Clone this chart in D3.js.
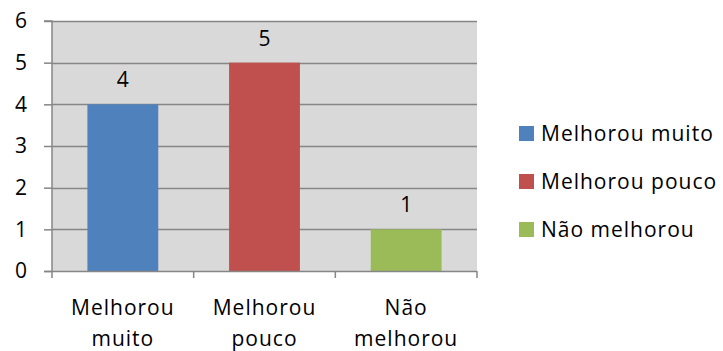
<!DOCTYPE html>
<html>
<head>
<meta charset="utf-8">
<script src="https://cdn.jsdelivr.net/npm/d3@7"></script>
<style>
  html, body { margin: 0; padding: 0; background: #fff; }
  svg { display: block; font-family: "Open Sans", "Liberation Sans", sans-serif; }
</style>
</head>
<body>
<svg id="chart" width="723" height="351"></svg>
<script>
const categories = ["Melhorou muito", "Melhorou pouco", "Não melhorou"];
const categoryLines = [["Melhorou", "muito"], ["Melhorou", "pouco"], ["Não", "melhorou"]];
const values = [4, 5, 1];
const colors = ["#4F81BD", "#C0504D", "#9BBB59"];
const yTicks = [0, 1, 2, 3, 4, 5, 6];

const svg = d3.select("#chart");
const plot = { left: 52, right: 477, top: 21, bottom: 271 };
const fontSize = 21;
const spacing = "1px";

const x = d3.scaleBand().domain(categories).range([plot.left, plot.right]).paddingInner(0.5).paddingOuter(0.25);
const xOuter = d3.scaleBand().domain(categories).range([plot.left, plot.right]);
const y = d3.scaleLinear().domain([0, 6]).range([plot.bottom, plot.top]);

const axisColor = "#868686";

// plot background
svg.append("rect")
  .attr("x", plot.left).attr("y", plot.top)
  .attr("width", plot.right - plot.left).attr("height", plot.bottom - plot.top)
  .attr("fill", "#D9D9D9");

// horizontal gridlines
svg.append("g").selectAll("line").data(yTicks.filter(d => d > 0)).join("line")
  .attr("x1", plot.left).attr("x2", plot.right)
  .attr("y1", d => Math.round(y(d)) + 0.5).attr("y2", d => Math.round(y(d)) + 0.5)
  .attr("stroke", axisColor).attr("stroke-width", 1.5);

// bars
svg.append("g").selectAll("rect").data(values).join("rect")
  .attr("x", (d, i) => x(categories[i]))
  .attr("width", x.bandwidth())
  .attr("y", d => y(d))
  .attr("height", d => y(0) - y(d))
  .attr("fill", (d, i) => colors[i]);

// value labels
svg.append("g").selectAll("text").data(values).join("text")
  .attr("x", (d, i) => x(categories[i]) + x.bandwidth() / 2)
  .attr("y", d => y(d) - 17)
  .attr("text-anchor", "middle")
  .attr("font-size", fontSize)
  .attr("fill", "#000")
  .text(d => d);

// y axis
const yAxis = d3.axisLeft(y).tickValues(yTicks).tickSize(8).tickPadding(17).tickFormat(d3.format("d"));
const gy = svg.append("g").attr("transform", `translate(${plot.left},0)`).call(yAxis);
gy.select(".domain").attr("stroke", axisColor).attr("stroke-width", 1.5).attr("d", `M-8,${plot.top}H0V${plot.bottom}`);
gy.selectAll(".tick line").attr("stroke", axisColor).attr("stroke-width", 1.5);
gy.selectAll(".tick text").attr("font-size", fontSize).attr("fill", "#000")
  .attr("font-family", "'Open Sans', sans-serif");

// x axis baseline and category separators
const gx = svg.append("g");
gx.append("line")
  .attr("x1", plot.left - 8).attr("x2", plot.right)
  .attr("y1", plot.bottom + 0.5).attr("y2", plot.bottom + 0.5)
  .attr("stroke", axisColor).attr("stroke-width", 1.5);
const sepX = categories.map(c => xOuter(c)).concat([plot.right]);
gx.selectAll("line.sep").data(sepX).join("line").attr("class", "sep")
  .attr("x1", d => d).attr("x2", d => d)
  .attr("y1", plot.bottom).attr("y2", plot.bottom + 7)
  .attr("stroke", axisColor).attr("stroke-width", 1.5);

// category labels (two lines)
const catLabels = gx.selectAll("text.cat").data(categories).join("text").attr("class", "cat")
  .attr("text-anchor", "middle")
  .attr("font-size", fontSize)
  .attr("letter-spacing", spacing)
  .attr("fill", "#000");
catLabels.each(function(c, i) {
  const t = d3.select(this);
  categoryLines[i].forEach((line, j) => {
    t.append("tspan")
      .attr("x", x(c) + x.bandwidth() / 2)
      .attr("y", 315 + j * 31)
      .text(line);
  });
});

// legend
const legend = svg.append("g").selectAll("g").data(categories).join("g")
  .attr("transform", (d, i) => `translate(519,${126 + i * 48})`);
legend.append("rect").attr("width", 15).attr("height", 15).attr("fill", (d, i) => colors[i]);
legend.append("text").attr("x", 22).attr("y", 15).attr("font-size", fontSize)
  .attr("letter-spacing", spacing).attr("fill", "#000").text(d => d);
</script>
</body>
</html>
